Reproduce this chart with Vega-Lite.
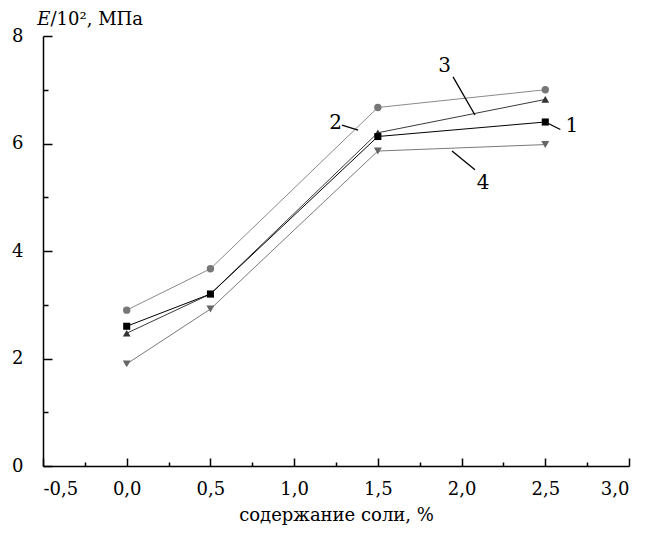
{
  "$schema": "https://vega.github.io/schema/vega-lite/v6.json",
  "width": 586,
  "height": 430,
  "autosize": "none",
  "padding": {"left": 43, "top": 36, "right": 17, "bottom": 68},
  "background": "white",
  "config": {
    "view": {"stroke": null},
    "font": "DejaVu Serif",
    "text": {"font": "DejaVu Serif"},
    "axis": {
      "grid": false,
      "domainColor": "black",
      "tickColor": "black",
      "labelColor": "black",
      "titleColor": "black",
      "labelFont": "DejaVu Serif",
      "titleFont": "DejaVu Serif",
      "labelFontSize": 18,
      "titleFontSize": 18,
      "titleFontWeight": "normal",
      "domainWidth": 1.5,
      "tickWidth": 1.5
    }
  },
  "datasets": {
    "main": [
      {"series": "4", "salt": 0.0, "E": 1.9},
      {"series": "4", "salt": 0.5, "E": 2.92},
      {"series": "4", "salt": 1.5, "E": 5.86},
      {"series": "4", "salt": 2.5, "E": 5.98},
      {"series": "2", "salt": 0.0, "E": 2.9},
      {"series": "2", "salt": 0.5, "E": 3.67},
      {"series": "2", "salt": 1.5, "E": 6.67},
      {"series": "2", "salt": 2.5, "E": 7.0},
      {"series": "3", "salt": 0.0, "E": 2.47},
      {"series": "3", "salt": 0.5, "E": 3.2},
      {"series": "3", "salt": 1.5, "E": 6.2},
      {"series": "3", "salt": 2.5, "E": 6.82},
      {"series": "1", "salt": 0.0, "E": 2.6},
      {"series": "1", "salt": 0.5, "E": 3.2},
      {"series": "1", "salt": 1.5, "E": 6.13},
      {"series": "1", "salt": 2.5, "E": 6.4}
    ],
    "leaders": [
      {"label": "1", "x": 2.5, "y": 6.4, "x2": 2.59, "y2": 6.26},
      {"label": "2", "x": 1.286, "y": 6.34, "x2": 1.382, "y2": 6.25},
      {"label": "3", "x": 1.949, "y": 7.24, "x2": 2.08, "y2": 6.53},
      {"label": "4", "x": 1.943, "y": 5.86, "x2": 2.08, "y2": 5.51}
    ],
    "labels": [
      {"label": "1", "x": 2.62, "y": 6.32},
      {"label": "2", "x": 1.21, "y": 6.38},
      {"label": "3", "x": 1.86, "y": 7.44},
      {"label": "4", "x": 2.09, "y": 5.26}
    ],
    "titleE": [{"t": "E", "x": -0.535, "y": 8.2}],
    "titleRest": [{"t": "/10², МПа", "x": -0.455, "y": 8.2}]
  },
  "layer": [
    {
      "data": {"name": "main"},
      "mark": {"type": "line", "strokeWidth": 1},
      "encoding": {
        "x": {
          "field": "salt", "type": "quantitative",
          "scale": {"domain": [-0.5, 3.0], "nice": false, "zero": false},
          "axis": {
            "orient": "bottom",
            "values": [-0.5, 0, 0.5, 1, 1.5, 2, 2.5, 3],
            "tickSize": -8,
            "labelPadding": 22,
            "labelExpr": "replace(replace(format(datum.value, '.1f'), '.', ','), '\u2212', '-')",
            "title": "содержание соли, %",
            "titlePadding": 8
          }
        },
        "y": {
          "field": "E", "type": "quantitative",
          "scale": {"domain": [0, 8], "nice": false},
          "axis": {
            "orient": "left",
            "values": [0, 2, 4, 6, 8],
            "tickSize": -9,
            "labelPadding": 29,
            "title": null
          }
        },
        "color": {
          "field": "series", "type": "nominal",
          "scale": {"domain": ["1", "2", "3", "4"], "range": ["#000000", "#8a8a8a", "#3a3a3a", "#7a7a7a"]},
          "legend": null
        },
        "detail": {"field": "series"}
      }
    },
    {
      "data": {"name": "main"},
      "mark": {"type": "point", "filled": true, "opacity": 1},
      "encoding": {
        "x": {
          "field": "salt", "type": "quantitative",
          "axis": {
            "orient": "bottom",
            "values": [-0.25, 0.25, 0.75, 1.25, 1.75, 2.25, 2.75],
            "tickSize": -4,
            "labels": false,
            "domain": false,
            "title": null
          }
        },
        "y": {
          "field": "E", "type": "quantitative",
          "axis": {
            "orient": "left",
            "values": [1, 3, 5, 7],
            "tickSize": -5,
            "labels": false,
            "domain": false,
            "title": null
          }
        },
        "color": {
          "field": "series", "type": "nominal",
          "scale": {"domain": ["1", "2", "3", "4"], "range": ["#000000", "#777777", "#333333", "#666666"]},
          "legend": null
        },
        "shape": {
          "field": "series", "type": "nominal",
          "scale": {"domain": ["1", "2", "3", "4"], "range": ["square", "circle", "triangle-up", "triangle-down"]},
          "legend": null
        },
        "size": {
          "field": "series", "type": "ordinal",
          "scale": {"domain": ["1", "2", "3", "4"], "range": [50, 64, 130, 130]},
          "legend": null
        }
      }
    },
    {
      "data": {"name": "leaders"},
      "mark": {"type": "rule", "color": "black", "strokeWidth": 1.3},
      "encoding": {
        "x": {"field": "x", "type": "quantitative", "axis": null},
        "y": {"field": "y", "type": "quantitative", "axis": null},
        "x2": {"field": "x2"},
        "y2": {"field": "y2"}
      }
    },
    {
      "data": {"name": "labels"},
      "mark": {"type": "text", "fontSize": 20, "font": "DejaVu Serif", "color": "black", "align": "left", "baseline": "middle"},
      "encoding": {
        "x": {"field": "x", "type": "quantitative", "axis": null},
        "y": {"field": "y", "type": "quantitative", "axis": null},
        "text": {"field": "label"}
      }
    },
    {
      "data": {"name": "titleE"},
      "mark": {"type": "text", "fontSize": 18, "font": "DejaVu Serif", "fontStyle": "italic", "color": "black", "align": "left", "baseline": "alphabetic"},
      "encoding": {
        "x": {"field": "x", "type": "quantitative", "axis": null},
        "y": {"field": "y", "type": "quantitative", "axis": null},
        "text": {"field": "t"}
      }
    },
    {
      "data": {"name": "titleRest"},
      "mark": {"type": "text", "fontSize": 18, "font": "DejaVu Serif", "color": "black", "align": "left", "baseline": "alphabetic"},
      "encoding": {
        "x": {"field": "x", "type": "quantitative", "axis": null},
        "y": {"field": "y", "type": "quantitative", "axis": null},
        "text": {"field": "t"}
      }
    }
  ],
  "resolve": {"axis": {"x": "independent", "y": "independent"}, "scale": {"color": "independent", "size": "independent"}}
}
